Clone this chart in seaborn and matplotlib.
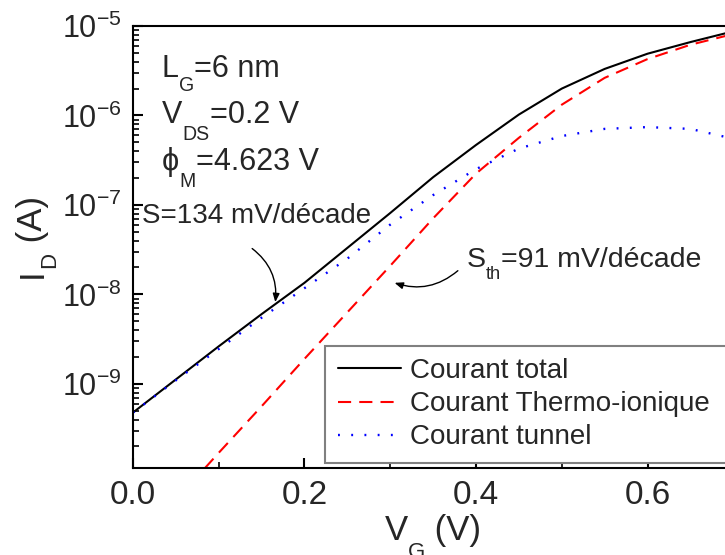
import numpy as np
import pandas as pd
import seaborn as sns
import matplotlib.pyplot as plt
from matplotlib.ticker import MultipleLocator, LogLocator

# gate voltage (V) and log10 of drain current (A)
vg = [0.0, 0.05, 0.1, 0.15, 0.2, 0.25, 0.3, 0.35, 0.4, 0.45, 0.5, 0.55, 0.6, 0.65, 0.7]
log_total = [-9.32, -8.95, -8.58, -8.22, -7.87, -7.48, -7.09, -6.69, -6.33, -5.99,
             -5.70, -5.48, -5.31, -5.18, -5.06]
log_thermo = [-10.82, -10.30, -9.77, -9.25, -8.72, -8.20, -7.68, -7.15, -6.65, -6.25,
              -5.88, -5.58, -5.37, -5.21, -5.09]
log_tunnel = [-9.32, -8.96, -8.61, -8.26, -7.93, -7.60, -7.22, -6.89, -6.60, -6.37,
              -6.23, -6.15, -6.13, -6.15, -6.26]
labels = ["Courant total", "Courant Thermo-ionique", "Courant tunnel"]

df = pd.DataFrame({
    "VG": vg,
    "total": np.power(10.0, log_total),
    "thermo": np.power(10.0, log_thermo),
    "tunnel": np.power(10.0, log_tunnel),
})

sns.set_style("ticks")
plt.rcParams["font.family"] = ["Liberation Sans", "DejaVu Sans"]
plt.rcParams["mathtext.fontset"] = "custom"
plt.rcParams["mathtext.rm"] = "Liberation Sans"
plt.rcParams["mathtext.it"] = "Liberation Sans:italic"
plt.rcParams["mathtext.default"] = "regular"
plt.rcParams["axes.unicode_minus"] = False

fig = plt.figure(figsize=(7.25, 5.55), dpi=100)
ax = fig.add_axes([0.1834, 0.1568, 0.828, 0.7964])
renderer = fig.canvas.get_renderer()


def rich_text(xy, parts, size, rotation=0, drop=0.45, scale=0.64):
    # draw text with deep subscripts, piece by piece, in figure pixels
    adv = 0.0
    for s, sub in parts:
        fs = size * scale if sub else size
        d = size * drop if sub else 0.0
        off = (adv, -d) if rotation == 0 else (d, adv)
        t = ax.annotate(s, xy=xy, xycoords="figure pixels", xytext=off,
                        textcoords="offset points", fontsize=fs, ha="left",
                        va="baseline", rotation=rotation, rotation_mode="anchor",
                        annotation_clip=False)
        bb = t.get_window_extent(renderer)
        adv += (bb.width if rotation == 0 else bb.height) * 72.0 / fig.dpi


sns.lineplot(data=df, x="VG", y="total", ax=ax, color="black", lw=1.5,
             label=labels[0])
sns.lineplot(data=df, x="VG", y="thermo", ax=ax, color="red", lw=1.5,
             linestyle=(0, (6.3, 3.9)), label=labels[1])
sns.lineplot(data=df, x="VG", y="tunnel", ax=ax, color="blue", lw=1.7,
             linestyle=(0, (0.8, 4.8)), label=labels[2])

ax.set_yscale("log")
ax.set_xlim(0, 0.7)
ax.set_ylim(1.15e-10, 1e-5)
ax.xaxis.set_major_locator(MultipleLocator(0.2))
ax.xaxis.set_minor_locator(MultipleLocator(0.1))
ax.yaxis.set_major_locator(LogLocator(base=10))
ax.yaxis.set_minor_locator(LogLocator(base=10, subs=np.arange(2, 10)))

for side in ["left", "bottom", "top", "right"]:
    ax.spines[side].set_linewidth(1.5)
    ax.spines[side].set_color("black")
ax.tick_params(axis="both", which="major", direction="in", length=7, width=1.5,
               top=False, right=False, color="black")
ax.tick_params(axis="both", which="minor", direction="in", length=4, width=1.2,
               top=False, right=False, color="black")
ax.tick_params(axis="x", which="major", labelsize=24, pad=9)
ax.tick_params(axis="y", which="major", labelsize=22, pad=8)
ax.xaxis.set_major_formatter(plt.FuncFormatter(lambda v, p: f"{v:.1f}"))
ax.set_xlabel("")
ax.set_ylabel("")

# axis labels
rich_text((385, 15), [("V", False), ("G", True), (" (V)", False)], 25, drop=0.52)
rich_text((42, 277), [("I", False), ("D", True), (" (A)", False)], 25,
          rotation=90, drop=0.37)

# device parameters
rich_text((162, 478), [("L", False), ("G", True), ("=6 nm", False)], 22, drop=0.45)
rich_text((162, 432), [("V", False), ("DS", True), ("=0.2 V", False)], 22, drop=0.55)
rich_text((162, 385), [("\u03d5", False), ("M", True), ("=4.623 V", False)], 22,
          drop=0.55)

# slopes
ax.text(0.0105, 6.3e-8, "S=134 mV/décade", fontsize=20, va="baseline")
rich_text((467, 288), [("S", False), ("th", True), ("=91 mV/décade", False)], 20.5,
          drop=0.42)

arrow = dict(arrowstyle="-|>,head_length=0.5,head_width=0.2", color="black", lw=1)
ax.annotate("", xy=(0.1656, 7.64e-9), xytext=(0.1364, 3.40e-8),
            arrowprops=dict(connectionstyle="arc3,rad=-0.3", **arrow))
ax.annotate("", xy=(0.302, 1.38e-8), xytext=(0.3813, 1.93e-8),
            arrowprops=dict(connectionstyle="arc3,rad=-0.3", **arrow))

leg = ax.legend(loc="lower left", bbox_to_anchor=(0.32, 0.0113, 0.8, 0.265),
                mode="expand", fontsize=20, frameon=True, fancybox=False,
                framealpha=1, handlelength=2.3, handletextpad=0.32,
                labelspacing=0.26, borderpad=0.45, borderaxespad=0)
leg.get_frame().set_edgecolor("#808080")
leg.get_frame().set_linewidth(1.5)

fig.savefig("out.png", dpi=100)
